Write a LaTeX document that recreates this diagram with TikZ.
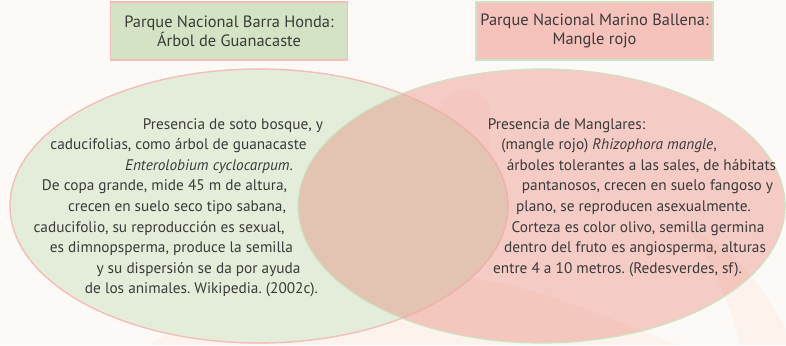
\documentclass[tikz,border=0pt]{standalone}
\usepackage{fontspec}
\setmainfont{PT Sans}
\frenchspacing
\definecolor{bgc}{HTML}{FDF9F6}
\definecolor{lbox}{HTML}{D5E3C5}
\definecolor{rbox}{HTML}{F5C2BC}
\definecolor{pinkline}{HTML}{F4BDB8}
\definecolor{greenline}{HTML}{CFE3C2}
\definecolor{lell}{HTML}{E4EDDA}
\definecolor{rell}{RGB}{226,99,86}
\definecolor{txt}{HTML}{3B3B3B}
\definecolor{peach}{HTML}{F6DCC4}
\tikzset{
  titlebox/.style={draw, line width=1.2pt, minimum width=237pt, minimum height=58pt, inner sep=0pt, align=center, text=txt, font=\fontsize{16.4}{19}\selectfont},
  bodyline/.style={anchor=base, inner sep=0pt, text=txt, font=\fontsize{15.3}{18}\selectfont}
}
\begin{document}
\begin{tikzpicture}[x=1pt,y=-1pt]
\fill[bgc] (0,0) rectangle (786,345);
\useasboundingbox (0,0) rectangle (786,345);
% faint background swirls
\begin{scope}
\clip (0,0) rectangle (786,345);
\fill[peach, opacity=0.18] (150,345) .. controls (260,270) and (420,250) .. (560,300) .. controls (620,320) and (660,340) .. (680,345) -- cycle;
\fill[peach, opacity=0.18] (690,230) .. controls (740,250) and (770,300) .. (786,330) -- (786,345) -- (740,345) .. controls (730,300) and (710,260) .. (690,230) -- cycle;
\fill[rell, opacity=0.035, rounded corners=22pt] (440,90) rectangle (490,188);
\end{scope}
% ellipses
\draw[fill=lell, draw=pinkline, line width=1.2pt] (259,206) ellipse [x radius=249, y radius=137];
\draw[fill=rell, fill opacity=0.3, draw=greenline, line width=1.2pt] (541.5,206) ellipse [x radius=243.5, y radius=137];
\draw[draw=pinkline, line width=1.0pt, opacity=0.7] (259,206) ellipse [x radius=249, y radius=137];
% title boxes
\node[titlebox, fill=lbox, draw=pinkline] (t1) at (229,31) {Parque Nacional Barra Honda:\\Árbol de Guanacaste};
\node[titlebox, fill=rbox, draw=greenline] (t2) at (594.5,31) {Parque Nacional Marino Ballena:\\Mangle rojo};
% left text
\node[bodyline] (l1) at (233,129) {Presencia de soto bosque, y};
\node[bodyline] (l2) at (178.5,149.6) {caducifolias, como árbol de guanacaste};
\node[bodyline] (l3) at (209,170.2) {\textit{Enterolobium cyclocarpum}.};
\node[bodyline] (l4) at (164.5,190.8) {De copa grande, mide 45 m de altura,};
\node[bodyline] (l5) at (177,211.4) {crecen en suelo seco tipo sabana,};
\node[bodyline] (l6) at (159,232) {caducifolio, su reproducción es sexual,};
\node[bodyline] (l7) at (171.5,252.6) {es dimnopsperma, produce la semilla};
\node[bodyline] (l8) at (198.5,273.2) {y su dispersión se da por ayuda};
\node[bodyline] (l9) at (201.5,293.8) {de los animales. Wikipedia. (2002c).};
% right text
\node[bodyline] (r1) at (566.5,129) {Presencia de Manglares:};
\node[bodyline] (r2) at (609,149.6) {(mangle rojo) \textit{Rhizophora mangle},};
\node[bodyline] (r3) at (641.5,170.2) {árboles tolerantes a las sales, de hábitats};
\node[bodyline] (r4) at (647.5,190.8) {pantanosos, crecen en suelo fangoso y};
\node[bodyline] (r5) at (633.5,211.4) {plano, se reproducen asexualmente.};
\node[bodyline] (r6) at (638,232) {Corteza es color olivo, semilla germina};
\node[bodyline] (r7) at (635,252.6) {dentro del fruto es angiosperma, alturas};
\node[bodyline] (r8) at (617.5,273.2) {entre 4 a 10 metros. (Redesverdes, sf).};
\end{tikzpicture}
\end{document}
